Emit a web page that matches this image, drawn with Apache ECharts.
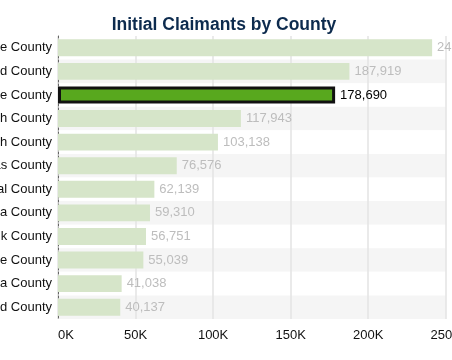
<!DOCTYPE html>
<html><head><meta charset="utf-8">
<script src="https://cdn.jsdelivr.net/npm/echarts@6/dist/echarts.min.js"></script>
<style>html,body{margin:0;padding:0;background:#fff}#c{width:452px;height:360px}</style>
</head><body><div id="c"></div>
<script>
var counties = ["Miami-Dade County","Broward County","Orange County","Hillsborough County","Palm Beach County","Pinellas County","Duval County","Osceola County","Polk County","Lee County","Volusia County","Brevard County"];
var claimants = [241243,187919,178690,117943,103138,76576,62139,59310,56751,55039,41038,40137];
var highlighted = "Orange County";
var xTicks = [0,50000,100000,150000,200000,250000];

var chart = echarts.init(document.getElementById('c'), null, {renderer:'canvas'});
var font = '"Liberation Sans", Arial, sans-serif';
chart.setOption({
  animation:false,
  title:{text:'Initial Claimants by County', left:219, top:11, textAlign:'center',
    textStyle:{fontFamily:font, fontSize:17.5, fontWeight:'bold', color:'#0d2b4e'}},
  grid:{left:58, right:6.3, top:36, bottom:41, containLabel:false, outerBoundsMode:'none'},
  xAxis:{type:'value', min:xTicks[0], max:xTicks[xTicks.length-1], interval:50000,
    axisLine:{show:false}, axisTick:{show:false},
    splitLine:{show:true, lineStyle:{color:'#e3e3e3', width:1.5}},
    axisLabel:{fontFamily:font, fontSize:13, color:'#111', margin:10, alignMinLabel:'left',
      formatter:function(v){return (v/1000)+'K';}}},
  yAxis:{type:'category', data:counties, inverse:true,
    axisLine:{show:true, lineStyle:{color:'#666', type:[2,2], width:1}},
    axisTick:{show:false},
    splitArea:{show:true, areaStyle:{color:['#ffffff','#f5f5f5']}},
    axisLabel:{fontFamily:font, fontSize:13, color:'#111', margin:6}},
  series:[{type:'bar', barWidth:'72%',
    data:claimants.map(function(v,i){
      var hi = counties[i]===highlighted;
      return {value:v,
        itemStyle: hi ? {color:'#58a81e', borderColor:'#111', borderWidth:3} : {color:'#d6e5c9'},
        label: hi ? {color:'#000'} : {color:'#bdbdbd'}};
    }),
    label:{show:true, position:'right', distance:5, fontFamily:font, fontSize:13,
      formatter:function(p){return p.value.toLocaleString('en-US');}}
  }]
});
</script></body></html>
